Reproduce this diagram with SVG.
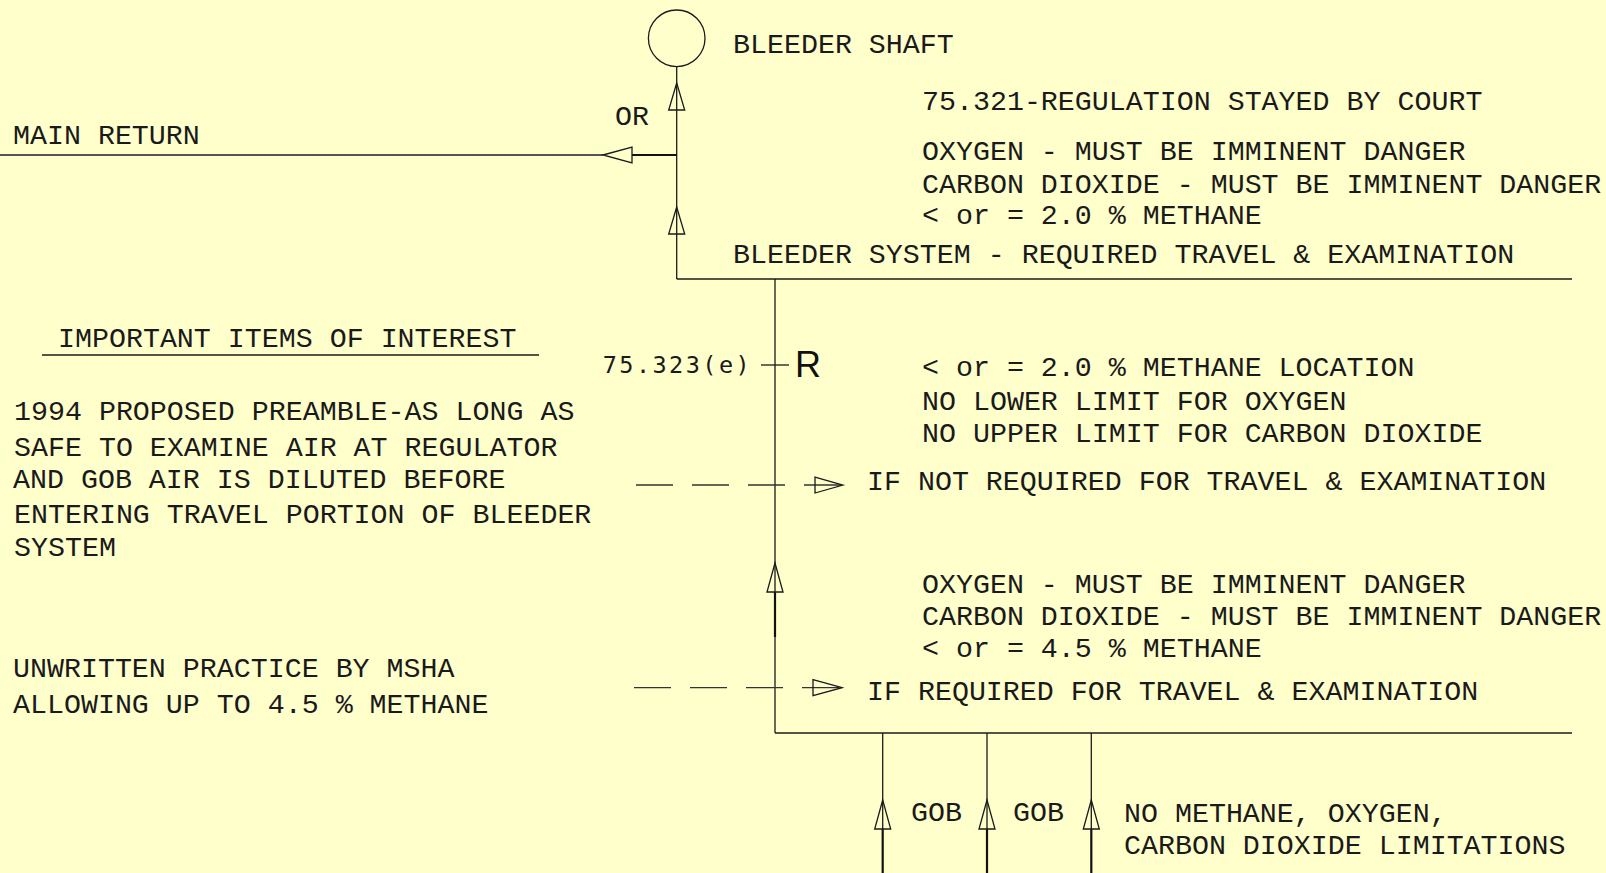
<svg xmlns="http://www.w3.org/2000/svg" width="1606" height="873" viewBox="0 0 1606 873">
<style>
.t{font-family:"Liberation Mono","DejaVu Sans Mono",monospace;font-size:28.3px;fill:#1a1a1a}
.ln{stroke:#1a1a1a;stroke-width:1.3;fill:none}
.thick{stroke:#111;stroke-width:2.2;fill:none}
.ah{stroke:#1a1a1a;stroke-width:1.3;fill:none}
.dash{stroke:#333;stroke-width:1.3;fill:none;stroke-dasharray:37 19}
</style>
<rect x="0" y="0" width="1606" height="873" fill="#FFFFCC"/>
<g id="connectors">
  <line class="ln" x1="676.7" y1="66.6" x2="676.7" y2="279"/>
  <line class="ln" x1="676.7" y1="279" x2="1572" y2="279"/>
  <line style="stroke:#555;stroke-width:1.8" x1="0" y1="155" x2="603" y2="155"/>
  <line class="thick" x1="632" y1="155" x2="676.7" y2="155"/>
  <polygon class="ah" points="676.7,83 668.7,110 684.7,110"/>
  <polygon class="ah" points="676.7,207 668.7,234 684.7,234"/>
  <polygon class="ah" points="603,155 632,147 632,163"/>
  <line class="ln" x1="775" y1="279" x2="775" y2="733"/>
  <line class="thick" x1="775" y1="592" x2="775" y2="637"/>
  <polygon class="ah" points="775,563 767,592 783,592"/>
  <line class="ln" x1="761" y1="365" x2="789" y2="365"/>
  <line class="ln" x1="775" y1="733" x2="1572" y2="733"/>
  <line class="dash" x1="636" y1="485" x2="843" y2="485"/>
  <polygon class="ah" points="843,485 815,477 815,493"/>
  <line class="dash" x1="634" y1="687.7" x2="842" y2="687.7"/>
  <polygon class="ah" points="842,687.7 813,679.7 813,695.7"/>
  <line class="ln" x1="882.7" y1="733" x2="882.7" y2="829"/>
  <line class="thick" x1="882.7" y1="829" x2="882.7" y2="873"/>
  <polygon class="ah" points="882.7,800 874.7,829 890.7,829"/>
  <line class="ln" x1="987" y1="733" x2="987" y2="829"/>
  <line class="thick" x1="987" y1="829" x2="987" y2="873"/>
  <polygon class="ah" points="987,800 979,829 995,829"/>
  <line class="ln" x1="1091.3" y1="733" x2="1091.3" y2="829"/>
  <line class="thick" x1="1091.3" y1="829" x2="1091.3" y2="873"/>
  <polygon class="ah" points="1091.3,800 1083.3,829 1099.3,829"/>
  <line class="ln" x1="42" y1="355" x2="539" y2="355"/>
</g>
<g id="bleeder-shaft">
  <circle class="ln" cx="676.7" cy="38.3" r="28.3"/>
  <text class="t" x="733" y="52.7">BLEEDER SHAFT</text>
</g>
<g id="or-label"><text class="t" x="615" y="125">OR</text></g>
<g id="main-return"><text class="t" x="13" y="144">MAIN RETURN</text></g>
<g id="regulation-321">
  <text class="t" x="922" y="109.6">75.321-REGULATION STAYED BY COURT</text>
  <text class="t" x="922" y="159.8">OXYGEN - MUST BE IMMINENT DANGER</text>
  <text class="t" x="922" y="192.5">CARBON DIOXIDE - MUST BE IMMINENT DANGER</text>
  <text class="t" x="922" y="224.3">&lt; or = 2.0 % METHANE</text>
</g>
<g id="bleeder-system"><text class="t" x="733" y="263.3">BLEEDER SYSTEM - REQUIRED TRAVEL &amp; EXAMINATION</text></g>
<g id="important-items"><text class="t" x="58" y="347">IMPORTANT ITEMS OF INTEREST</text></g>
<g id="regulator">
  <text x="602.7" y="373.3" style="font-family:'DejaVu Sans Mono',monospace;font-size:23.5px;fill:#1a1a1a" textLength="147" lengthAdjust="spacing">75.323(e)</text>
  <text x="795" y="377.3" style="font-family:'Liberation Sans',Arial,sans-serif;font-size:36px;fill:#111">R</text>
</g>
<g id="methane-location">
  <text class="t" x="922" y="376">&lt; or = 2.0 % METHANE LOCATION</text>
  <text class="t" x="922" y="410">NO LOWER LIMIT FOR OXYGEN</text>
  <text class="t" x="922" y="442">NO UPPER LIMIT FOR CARBON DIOXIDE</text>
</g>
<g id="preamble-1994">
  <text class="t" x="14" y="420">1994 PROPOSED PREAMBLE-AS LONG AS</text>
  <text class="t" x="14" y="456">SAFE TO EXAMINE AIR AT REGULATOR</text>
  <text class="t" x="13" y="488">AND GOB AIR IS DILUTED BEFORE</text>
  <text class="t" x="14" y="523">ENTERING TRAVEL PORTION OF BLEEDER</text>
  <text class="t" x="14" y="556">SYSTEM</text>
</g>
<g id="not-required"><text class="t" x="867" y="490">IF NOT REQUIRED FOR TRAVEL &amp; EXAMINATION</text></g>
<g id="required-limits">
  <text class="t" x="922" y="593">OXYGEN - MUST BE IMMINENT DANGER</text>
  <text class="t" x="922" y="625">CARBON DIOXIDE - MUST BE IMMINENT DANGER</text>
  <text class="t" x="922" y="657">&lt; or = 4.5 % METHANE</text>
</g>
<g id="unwritten-practice">
  <text class="t" x="13" y="677">UNWRITTEN PRACTICE BY MSHA</text>
  <text class="t" x="13" y="713">ALLOWING UP TO 4.5 % METHANE</text>
</g>
<g id="required"><text class="t" x="867" y="700">IF REQUIRED FOR TRAVEL &amp; EXAMINATION</text></g>
<g id="gob-1"><text class="t" x="911" y="820.7">GOB</text></g>
<g id="gob-2"><text class="t" x="1013" y="820.7">GOB</text></g>
<g id="no-limitations">
  <text class="t" x="1124" y="822">NO METHANE, OXYGEN,</text>
  <text class="t" x="1124" y="854">CARBON DIOXIDE LIMITATIONS</text>
</g>
</svg>
